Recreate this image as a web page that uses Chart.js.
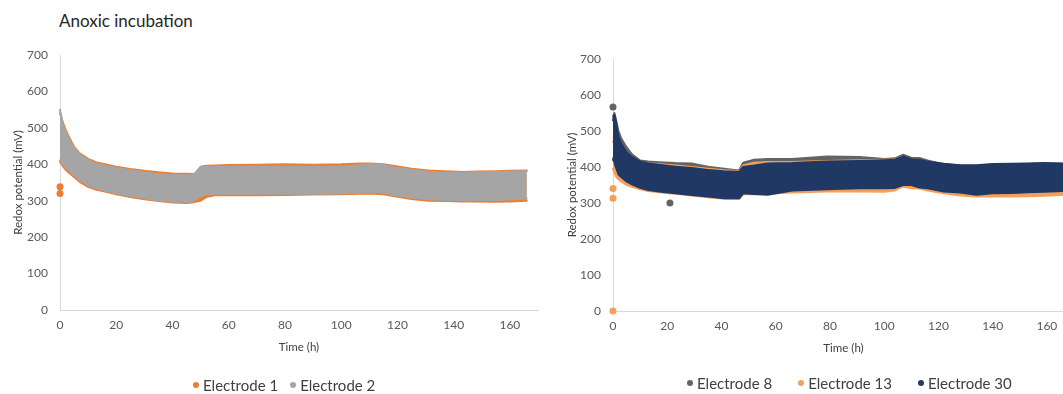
<!DOCTYPE html>
<html>
<head>
<meta charset="utf-8">
<script src="https://cdn.jsdelivr.net/npm/chart.js@4/dist/chart.umd.min.js"></script>
<style>
    body { margin: 0; width: 1063px; height: 394px; overflow: hidden; background: #fff; position: relative; font-family: Lato, "Open Sans", sans-serif; }
    .panel { position: absolute; top: 0; width: 560px; height: 394px; }
    #left-panel { left: 0; }
    #right-panel { left: 553px; }
    .title { position: absolute; left: 59px; top: 10px; font-size: 17px; color: #262626; }
    .legend { position: absolute; display: flex; align-items: center; font-size: 15px; color: #404040; white-space: nowrap; }
    .legend .item { display: flex; align-items: center; }
    .legend .dot { width: 6px; height: 6px; border-radius: 50%; margin-right: 4px; }
    #left-legend { left: 193px; top: 376px; }
    #left-legend .item { margin-right: 12px; }
    #right-legend { left: 687px; top: 374px; }
    #right-legend .item { margin-right: 26px; }
</style>
</head>
<body>
<div class="title">Anoxic incubation</div>
<div class="panel" id="left-panel"><canvas id="left-chart" width="560" height="394"></canvas></div>
<div class="panel" id="right-panel"><canvas id="right-chart" width="560" height="394"></canvas></div>
<div class="legend" id="left-legend"></div>
<div class="legend" id="right-legend"></div>

<script>
/* ---------- Data ---------- */
// tick labels
const xTicks = [0, 20, 40, 60, 80, 100, 120, 140, 160];
const yTicks = [0, 100, 200, 300, 400, 500, 600, 700];

// left panel: time (h) and upper / lower edge of each electrode's point cloud (mV)
const leftTime = [0, 1, 2, 3, 5, 7, 10, 13, 16, 20, 25, 30, 35, 40, 45, 47, 48, 50, 52, 55, 60, 70, 80, 90, 100, 107, 110, 115, 119, 125, 131, 137, 143, 149, 155, 160, 166];
const e1High = [540, 515, 495, 478, 448, 430, 415, 405, 400, 393, 387, 382, 378, 375, 374, 373, 373, 393, 396, 397, 398, 399, 400, 399, 400, 402, 402, 400, 395, 388, 383, 381, 379, 380, 381, 382, 383];
const e1Low = [408, 395, 385, 378, 365, 352, 338, 330, 325, 318, 310, 304, 299, 295, 294, 295, 297, 300, 310, 315, 315, 315, 316, 317, 318, 319, 320, 318, 312, 305, 300, 299, 298, 298, 297, 298, 300];
const e2High = [550, 510, 490, 472, 444, 427, 412, 402, 396, 390, 384, 378, 373, 370, 370, 371, 375, 392, 393, 393, 393, 393, 393, 393, 393, 398, 400, 398, 391, 385, 379, 377, 376, 378, 379, 380, 381];
const e2Low = [411, 400, 392, 384, 370, 357, 342, 334, 328, 320, 313, 307, 301, 297, 297, 298, 302, 312, 318, 319, 319, 319, 319, 319, 320, 322, 324, 322, 315, 309, 304, 302, 301, 302, 302, 303, 306];
const e1OutTime = [0, 0];
const e1OutValue = [338, 320];

// right panel
const rightTime = [0, 0.5, 1, 2, 3, 5, 7, 10, 13, 17, 23, 29, 35, 41, 45.5, 46.5, 48, 52, 57, 66, 79, 91, 100, 104, 107, 110, 113, 116, 122, 128, 134, 140, 147, 153, 159, 166];
const e8High = [540, 550, 535, 500, 480, 455, 435, 418, 415, 413, 411, 410, 401, 395, 391, 391, 412, 420, 422, 422, 429, 428, 422, 424, 434, 426, 425, 418, 407, 403, 403, 406, 407, 408, 409, 408];
const e8Low = [425, 420, 405, 385, 377, 365, 357, 347, 341, 337, 332, 327, 323, 318, 318, 318, 332, 330, 328, 340, 343, 346, 346, 347, 355, 355, 348, 346, 337, 334, 328, 332, 333, 335, 336, 338];
const e13High = [470, 475, 465, 455, 445, 432, 425, 414, 410, 408, 404, 400, 395, 391, 389, 389, 404, 412, 414, 414, 417, 419, 420, 421, 428, 422, 420, 414, 408, 404, 404, 407, 408, 409, 410, 409];
const e13Low = [395, 385, 375, 366, 360, 350, 345, 338, 333, 330, 326, 321, 316, 312, 311, 311, 324, 324, 326, 329, 332, 332, 331, 335, 346, 341, 340, 335, 327, 321, 318, 318, 318, 319, 320, 323];
const e30High = [530, 545, 530, 485, 465, 440, 428, 415, 410, 406, 401, 397, 392, 388, 387, 387, 400, 404, 410, 411, 415, 417, 419, 420, 429, 422, 420, 415, 409, 405, 405, 408, 409, 410, 411, 410];
const e30Low = [420, 415, 400, 380, 372, 360, 352, 342, 336, 332, 327, 322, 318, 313, 313, 313, 327, 325, 323, 335, 338, 341, 341, 342, 350, 350, 343, 341, 332, 329, 323, 327, 328, 330, 331, 333];
const e8OutTime = [0, 21];
const e8OutValue = [567, 300];
const e13OutTime = [0, 0, 0];
const e13OutValue = [340, 313, 0];

/* ---------- Colours ---------- */
const C_E1 = "#ED7D31";
const C_E2 = "#A5A5A5";
const C_E8 = "#646464";
const C_E13 = "#F4A05A";
const C_E30 = "#203864";

/* ---------- Helpers ---------- */
function pts(t, v) {
    return t.map((x, i) => ({ x, y: v[i] }));
}

// a dense scatter cloud drawn as the area between its upper and lower edge
function band(label, color, time, high, low, order) {
    const common = {
        borderColor: color, backgroundColor: color, borderWidth: 2,
        pointRadius: 0, tension: 0, order, clip: false,
        borderJoinStyle: "round", borderCapStyle: "round"
    };
    return [
        { ...common, label, data: pts(time, high), fill: false },
        { ...common, label: "_" + label, data: pts(time, low), fill: "-1" }
    ];
}

function outliers(color, time, values, order) {
    return {
        label: "_out", data: pts(time, values), showLine: false,
        pointRadius: 3.5, pointHoverRadius: 3.5, pointBorderWidth: 0,
        pointBackgroundColor: color, borderColor: color, order, clip: false
    };
}

function axisOptions(yTitlePad) {
    const tickFont = { family: "Lato, 'Open Sans', sans-serif", size: 12 };
    const titleFont = { family: "Lato, 'Open Sans', sans-serif", size: 11.5 };
    return {
        x: {
            type: "linear", min: 0, max: 170,
            afterBuildTicks: s => { s.ticks = xTicks.map(v => ({ value: v })); },
            afterFit: s => { s.height = 46; },
            grid: { display: false, drawTicks: false },
            border: { display: true, color: "#d9d9d9", width: 1 },
            ticks: { color: "#595959", font: tickFont, padding: 8, maxRotation: 0 },
            title: { display: true, text: "Time (h)", color: "#404040", font: titleFont, padding: { top: 0, bottom: 2 } }
        },
        y: {
            type: "linear", min: 0, max: 700,
            afterBuildTicks: s => { s.ticks = yTicks.map(v => ({ value: v })); },
            afterFit: s => { s.width = 52; },
            grid: { display: false, drawTicks: false },
            border: { display: true, color: "#d9d9d9", width: 1 },
            ticks: { color: "#595959", font: tickFont, padding: 12 },
            title: { display: true, text: "Redox potential (mV)", color: "#404040", font: titleFont, padding: { top: yTitlePad, bottom: 0 } }
        }
    };
}

function makeChart(id, datasets, padding, yTitlePad) {
    return new Chart(document.getElementById(id).getContext("2d"), {
        type: "line",
        data: { datasets },
        options: {
            responsive: false,
            animation: false,
            layout: { padding },
            plugins: { legend: { display: false }, tooltip: { enabled: false } },
            scales: axisOptions(yTitlePad)
        }
    });
}

function renderLegend(id, items) {
    const box = document.getElementById(id);
    items.forEach(([name, color]) => {
        const div = document.createElement("div");
        div.className = "item";
        div.innerHTML = `<span class="dot" style="background:${color}"></span><span>${name}</span>`;
        box.appendChild(div);
    });
}

/* ---------- Charts ---------- */
makeChart("left-chart", [
    ...band("Electrode 2", C_E2, leftTime, e2High, e2Low, 0),
    ...band("Electrode 1", C_E1, leftTime, e1High, e1Low, 2),
    outliers(C_E1, e1OutTime, e1OutValue, 3)
], { left: 8, top: 55, right: 22, bottom: 38 }, 3);

makeChart("right-chart", [
    ...band("Electrode 30", C_E30, rightTime, e30High, e30Low, 0),
    ...band("Electrode 13", C_E13, rightTime, e13High, e13Low, 2),
    ...band("Electrode 8", C_E8, rightTime, e8High, e8Low, 4),
    outliers(C_E13, e13OutTime, e13OutValue, 5),
    outliers(C_E8, e8OutTime, e8OutValue, 6)
], { left: 8, top: 59, right: 39, bottom: 37 }, 4);

renderLegend("left-legend", [["Electrode 1", C_E1], ["Electrode 2", C_E2]]);
renderLegend("right-legend", [["Electrode 8", C_E8], ["Electrode 13", C_E13], ["Electrode 30", C_E30]]);
</script>
</body>
</html>
